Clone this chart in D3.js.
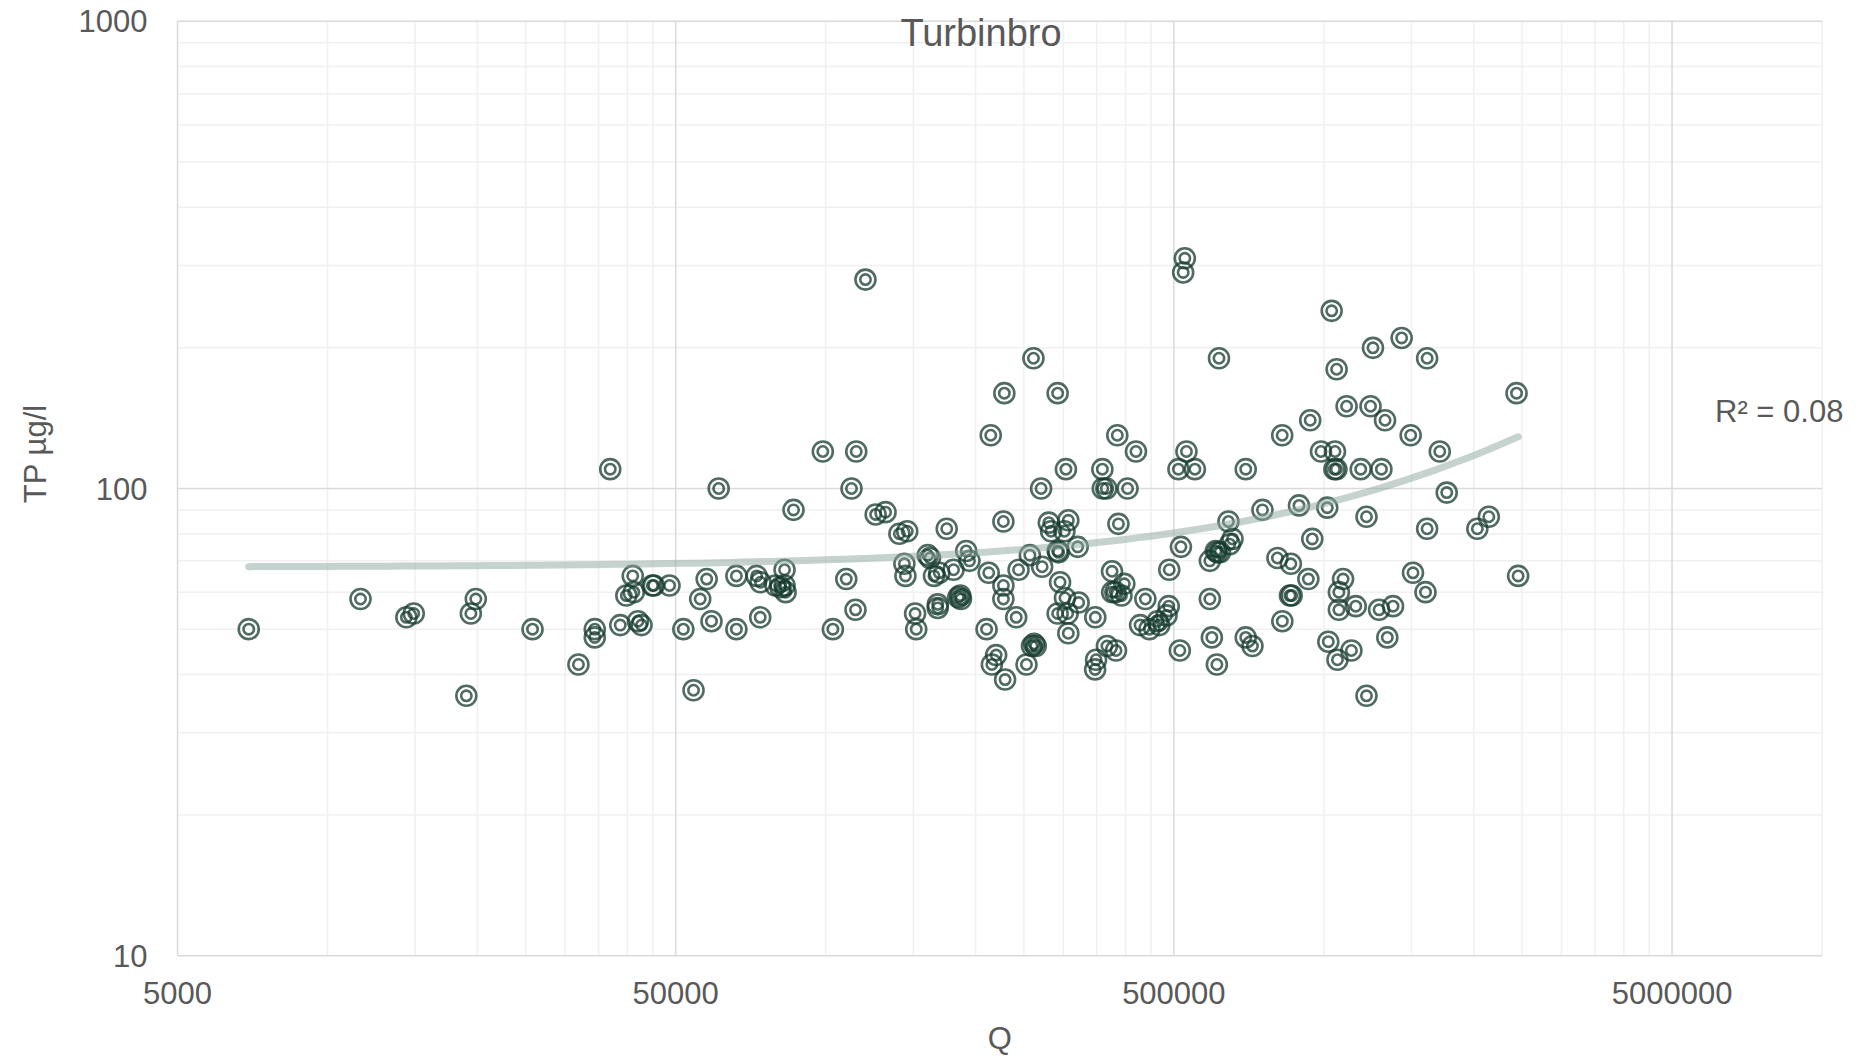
<!DOCTYPE html>
<html>
<head>
<meta charset="utf-8">
<script src="https://cdnjs.cloudflare.com/ajax/libs/d3/7.8.5/d3.min.js"></script>
<style>
  body { margin: 0; background: #fff; }
  text { font-family: "Liberation Sans", Arial, sans-serif; fill: #595959; }
</style>
</head>
<body>
<div class="chart"></div>
<script>
// discharge Q and total phosphorus
const q = [
  6950, 11650, 14400, 14900, 19400, 19850, 19000, 25800, 31900, 34400, 34400, 36950, 38700, 41000, 39800, 41200, 42000, 42700, 44900, 45200, 48600,
  51800, 57700, 56000, 59000, 61000, 66200, 66200, 72700, 74000, 73900, 82700, 79300, 81200, 82700, 83100, 54300, 86200,
  98700, 115200, 112700, 120200,
  110000, 114800, 103400, 126000, 131900, 140600, 145800, 175000, 143900, 144600, 160300, 162000, 165000, 169100, 180600, 191500, 194400, 151200, 152000, 167900, 167900, 186300, 186900, 184600, 212500, 227400, 227400, 227400, 243900, 257000, 272000, 241300, 210400, 219900, 215600, 229200, 253000, 262100, 264100, 259500, 280500, 283500, 307000, 301500, 292200, 293500, 320600, 295500, 302300, 322000, 292200, 306000, 307000, 347800, 375700, 387000, 367000, 382700, 349000, 347500, 376000, 381600, 392500, 397700,
  214500, 228400, 261300, 292200, 385000, 303600, 359300, 270700, 360000, 366000,
  526000, 522000, 1037000, 616000, 1433000, 1255000, 1612000, 1061000, 2437000, 1111000, 1241000, 1327000, 939000, 825000, 1494000, 1709000, 987000, 1053000, 1050000, 1060000, 1186000, 1305000, 697000, 510700, 551000, 530000, 419700, 403700, 1765000,
  516600, 489500, 643500, 655700, 647400, 607000, 611400, 619000, 590500, 753000, 891600, 1016000, 1218000, 948000, 1612000, 2033000, 2144000, 807000, 858700, 931000, 855000, 862000, 1093000, 1072000, 1072000, 1159000, 1291000, 1377000, 1510000, 1600000, 2455000, 1341000, 1021000, 1065000, 1136000, 1218000, 825500, 697000, 719000, 596000, 610000, 590500, 514000, 438300, 488300, 483400, 463700, 446700, 427700, 467600
];
const tp = [
  50, 58, 53, 54, 54, 58, 36, 50, 42, 50, 48, 110, 51, 65, 59, 60, 52, 51, 62, 62, 62,
  50, 64, 58, 52, 100, 65, 50, 65, 63, 53, 67, 62, 61.5, 62, 60, 37, 90,
  120, 120, 100, 280,
  64, 55, 50, 88, 89, 80, 81, 82, 69, 65, 72, 71, 65, 66, 67, 73.5, 70, 54, 50, 56.5, 55.5, 59, 58, 58.5, 66, 85, 62, 58, 67, 72, 68, 53, 50, 44, 42, 39, 42, 46.5, 46, 46, 84.5, 81, 85.5, 81, 73.5, 73, 75, 63, 58.3, 57, 54, 54, 49, 53, 66.5, 84, 46, 45, 43, 41, 60, 60, 59, 62.5,
  130, 160, 190, 160, 130, 110, 110, 100, 100, 100,
  311, 290, 240, 190, 210, 200, 190, 180, 160, 150, 150, 140, 140, 130, 130, 120, 120, 120, 110, 110, 110, 110, 110, 110, 110, 120, 120, 100, 98,
  75, 67, 85, 78, 76, 73.5, 73, 73, 70, 90, 92, 91, 87, 78, 82, 82, 87, 71, 69, 64, 59, 59, 64, 60, 55, 56, 55, 56, 66, 60, 65, 48, 47, 43, 45, 36, 52, 48, 46, 48, 42, 58, 45, 58, 56, 53.5, 52, 50, 51, 51
];

const xTicks = [5000, 50000, 500000, 5000000];
const yTicks = [10, 100, 1000];
const chartTitle = "Turbinbro";
const xTitle = "Q";
const yTitle = "TP µg/l";
const rSquaredLabel = "R² = 0.08";

const width = 1857;
const height = 1057;
const plotLeft = 177.5, plotRight = 1822, plotTop = 21.3, plotBottom = 955.7;

const svg = d3.select(".chart").append("svg")
  .attr("width", width)
  .attr("height", height)
  .style("display", "block");

svg.append("rect").attr("width", width).attr("height", height).attr("fill", "#fff");

const x = d3.scaleLog().domain([5000, 10000000]).range([plotLeft, plotRight]);
const y = d3.scaleLog().domain([10, 1000]).range([plotBottom, plotTop]);

// gridlines, excel style: minor every multiple of the 5000-based decade
const xMinor = xTicks.flatMap(b => d3.range(2, 10).map(m => b * m)).filter(v => v <= 10000000);
const yMinor = [10, 100].flatMap(b => d3.range(2, 10).map(m => b * m));

const grid = svg.append("g");
grid.selectAll(".xminor").data(xMinor).enter().append("line")
  .attr("x1", d => x(d)).attr("x2", d => x(d))
  .attr("y1", plotTop).attr("y2", plotBottom)
  .attr("stroke", "#f0f0f0").attr("stroke-width", 1.5);
grid.selectAll(".yminor").data(yMinor).enter().append("line")
  .attr("x1", plotLeft).attr("x2", plotRight)
  .attr("y1", d => y(d)).attr("y2", d => y(d))
  .attr("stroke", "#f0f0f0").attr("stroke-width", 1.5);
grid.selectAll(".xmajor").data(xTicks).enter().append("line")
  .attr("x1", d => x(d)).attr("x2", d => x(d))
  .attr("y1", plotTop).attr("y2", plotBottom)
  .attr("stroke", "#d9d9d9").attr("stroke-width", 1.5);
grid.selectAll(".ymajor").data(yTicks).enter().append("line")
  .attr("x1", plotLeft).attr("x2", plotRight)
  .attr("y1", d => y(d)).attr("y2", d => y(d))
  .attr("stroke", "#d9d9d9").attr("stroke-width", 1.5);

// tick labels
svg.selectAll(".xlab").data(xTicks).enter().append("text")
  .attr("x", d => x(d))
  .attr("y", plotBottom + 48)
  .attr("text-anchor", "middle")
  .style("font-size", "31px")
  .text(d => String(d));

svg.selectAll(".ylab").data(yTicks).enter().append("text")
  .attr("x", plotLeft - 30)
  .attr("y", d => y(d) + 11)
  .attr("text-anchor", "end")
  .style("font-size", "31px")
  .text(d => String(d));

// markers
const pts = q.map((v, i) => ({ q: v, tp: tp[i] }));
const marks = svg.append("g");
const dot = marks.selectAll(".pt").data(pts).enter().append("g")
  .attr("transform", d => "translate(" + x(d.q) + "," + y(d.tp) + ")");
dot.append("circle").attr("r", 10)
  .attr("fill", "none").attr("stroke", "#163b2e").attr("stroke-opacity", 0.75).attr("stroke-width", 2.6);
dot.append("circle").attr("r", 5.2)
  .attr("fill", "none").attr("stroke", "#163b2e").attr("stroke-opacity", 0.75).attr("stroke-width", 2.6);

// linear trend fitted to the points (drawn over the log axes)
const mx = d3.mean(q), my = d3.mean(tp);
let sxy = 0, sxx = 0;
q.forEach((v, i) => { sxy += (v - mx) * (tp[i] - my); sxx += (v - mx) * (v - mx); });
const slope = sxy / sxx;
const intercept = my - slope * mx;
const qMin = d3.min(q), qMax = d3.max(q);
const trendQ = d3.range(0, 101).map(i => qMin * Math.pow(qMax / qMin, i / 100));

const line = d3.line().x(d => x(d)).y(d => y(intercept + slope * d));
svg.append("path")
  .datum(trendQ)
  .attr("d", line)
  .attr("fill", "none")
  .attr("stroke", "#8ca59b")
  .attr("stroke-opacity", 0.5)
  .attr("stroke-width", 7)
  .attr("stroke-linecap", "round");

// titles
svg.append("text")
  .attr("x", 981).attr("y", 46)
  .attr("text-anchor", "middle")
  .style("font-size", "38px")
  .text(chartTitle);

svg.append("text")
  .attr("x", (plotLeft + plotRight) / 2).attr("y", 1049)
  .attr("text-anchor", "middle")
  .style("font-size", "31px")
  .text(xTitle);

svg.append("text")
  .attr("transform", "translate(46,454) rotate(-90)")
  .attr("text-anchor", "middle")
  .style("font-size", "31px")
  .text(yTitle);

svg.append("text")
  .attr("x", 1715).attr("y", 422)
  .style("font-size", "31px")
  .text(rSquaredLabel);
</script>
</body>
</html>
